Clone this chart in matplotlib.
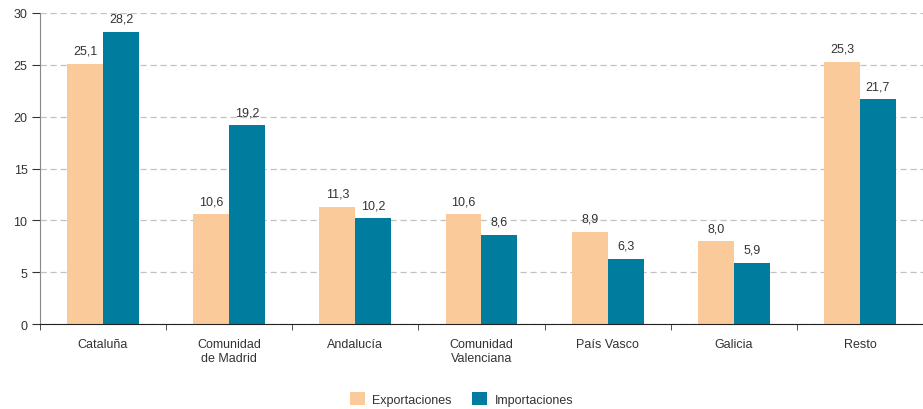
import matplotlib
matplotlib.use("Agg")
import matplotlib.pyplot as plt
import numpy as np

# datos
regiones = ["Cataluña", "Comunidad\nde Madrid", "Andalucía", "Comunidad\nValenciana",
            "País Vasco", "Galicia", "Resto"]
exportaciones = [25.1, 10.6, 11.3, 10.6, 8.9, 8.0, 25.3]
importaciones = [28.2, 19.2, 10.2, 8.6, 6.3, 5.9, 21.7]
yticks = [0, 5, 10, 15, 20, 25, 30]

col_exp = "#FBCA9B"
col_imp = "#007D9E"

plt.rcParams["font.family"] = ["Liberation Sans", "DejaVu Sans"]
plt.rcParams["font.size"] = 9

fig = plt.figure(figsize=(9.23, 4.10), dpi=100)
ax = fig.add_axes([0.0433, 0.207, 0.9567, 0.759])

x = np.arange(len(regiones))
w = 0.285
b1 = ax.bar(x - w / 2, exportaciones, w, color=col_exp, label="Exportaciones", zorder=2)
b2 = ax.bar(x + w / 2, importaciones, w, color=col_imp, label="Importaciones", zorder=2)

for bars, vals in ((b1, exportaciones), (b2, importaciones)):
    for r, v in zip(bars, vals):
        ax.annotate(f"{v:.1f}".replace(".", ","),
                    (r.get_x() + r.get_width() / 2, r.get_height()),
                    xytext=(0, 5), textcoords="offset points",
                    ha="center", va="bottom", color="#333333", fontsize=9)

ax.set_xlim(-0.5, len(regiones) - 0.5)
ax.set_ylim(0, 30)
ax.set_yticks(yticks)
ax.yaxis.grid(True, linestyle=(0, (5, 3)), color="#c2c2c2", linewidth=0.9, zorder=0)
ax.set_axisbelow(True)

ax.set_xticks(x)
ax.set_xticklabels(regiones, color="#333333")
ax.tick_params(axis="x", length=0, pad=10)
ax.set_xticks(np.arange(len(regiones) + 1) - 0.5, minor=True)
ax.tick_params(axis="x", which="minor", length=4, direction="out", color="#333333")
ax.tick_params(axis="y", length=6, color="#333333", labelcolor="#333333", pad=3)

for s in ("top", "right"):
    ax.spines[s].set_visible(False)
ax.spines["left"].set_color("#888888")
ax.spines["bottom"].set_color("#222222")

fig.legend(handles=[b1, b2], loc="lower center", bbox_to_anchor=(0.5, -0.02),
           ncol=2, frameon=False, handlelength=1.2, handleheight=1.2,
           handletextpad=0.6, columnspacing=1.6, fontsize=9, labelcolor="#333333")

fig.savefig("out.png", dpi=100)
